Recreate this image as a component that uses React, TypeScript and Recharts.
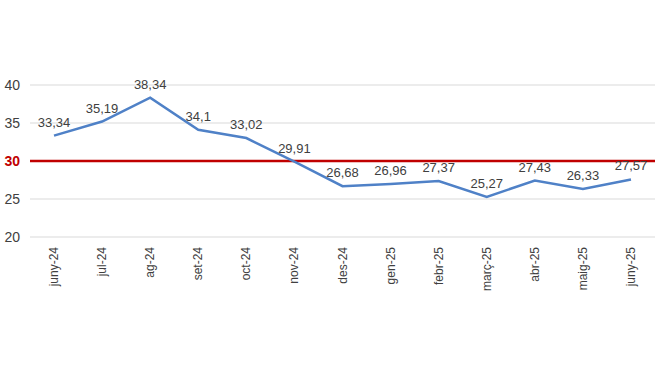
import React from "react";
import {
  CartesianGrid,
  LabelList,
  Line,
  LineChart,
  ReferenceLine,
  XAxis,
  YAxis,
} from "recharts";

const months = [
  "juny-24", "jul-24", "ag-24", "set-24", "oct-24", "nov-24", "des-24",
  "gen-25", "febr-25", "març-25", "abr-25", "maig-25", "juny-25",
];
const values = [33.34, 35.19, 38.34, 34.1, 33.02, 29.91, 26.68, 26.96, 27.37, 25.27, 27.43, 26.33, 27.57];
const yTicks = [20, 25, 30, 35, 40];
const threshold = 30;

const data = months.map((m, i) => ({ month: m, value: values[i] }));

const FONT = "'Liberation Sans', Arial, sans-serif";

function YTick(props: any) {
  const { x, y, payload } = props;
  const isLimit = payload.value === threshold;
  return (
    <text
      x={x}
      y={y}
      dy={5}
      textAnchor="end"
      fontSize={14}
      fontFamily={FONT}
      fontWeight={isLimit ? 700 : 400}
      fill={isLimit ? "#c00000" : "#404040"}
    >
      {payload.value}
    </text>
  );
}

function XTick(props: any) {
  const { x, y, payload } = props;
  return (
    <text
      x={x}
      y={y}
      textAnchor="end"
      transform={`rotate(-90, ${x}, ${y})`}
      fontSize={12}
      fontFamily={FONT}
      fill="#404040"
    >
      <tspan dy={4}>{payload.value}</tspan>
    </text>
  );
}

export default function App() {
  return (
    <div style={{ position: "absolute", left: 0, top: 0, background: "#fff" }}>
      <LineChart
        width={659}
        height={371}
        data={data}
        margin={{ top: 85, right: 4, bottom: 74, left: 0 }}
      >
        <CartesianGrid vertical={false} stroke="#d9d9d9" />
        <XAxis
          dataKey="month"
          axisLine={false}
          tickLine={false}
          interval={0}
          height={60}
          tick={<XTick />}
          tickMargin={4}
          padding={{ left: 24, right: 24 }}
        />
        <YAxis
          domain={[20, 40]}
          ticks={yTicks}
          axisLine={false}
          tickLine={false}
          width={30}
          tick={<YTick />}
          tickMargin={4}
        />
        <ReferenceLine y={threshold} stroke="#c00000" strokeWidth={2.5} />
        <Line
          type="linear"
          dataKey="value"
          stroke="#4f81c7"
          strokeWidth={2.5}
          dot={false}
          isAnimationActive={false}
        >
          <LabelList
            dataKey="value"
            position="top"
            offset={9}
            fontSize={13}
            fontFamily={FONT}
            fill="#404040"
            formatter={(v: any) => String(v).replace(".", ",")}
          />
        </Line>
      </LineChart>
    </div>
  );
}
